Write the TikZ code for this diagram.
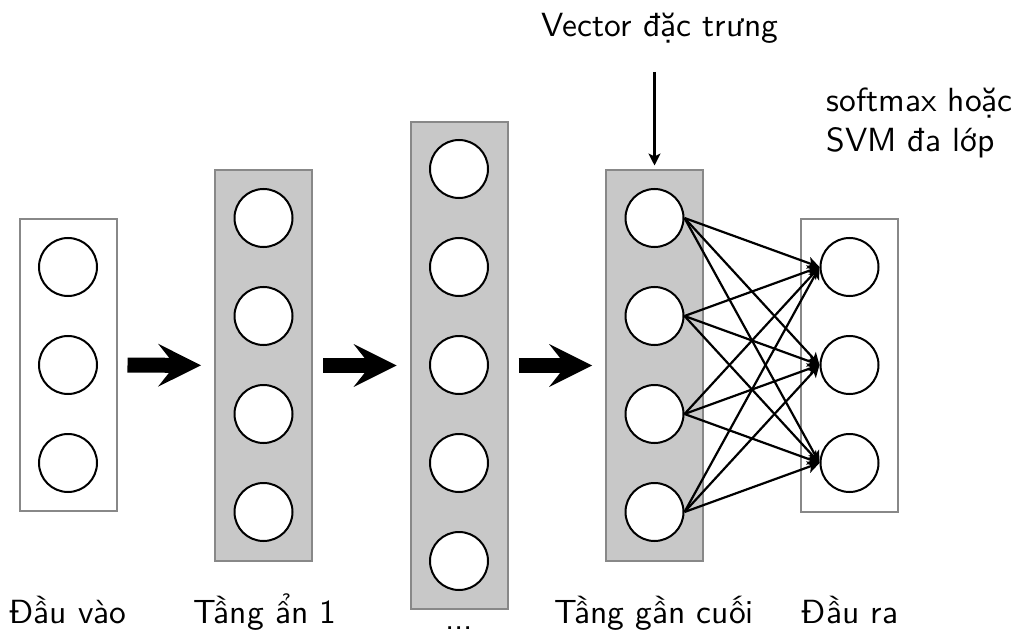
\documentclass[tikz,border=0pt]{standalone}
\usepackage{fontspec}
\usetikzlibrary{arrows.meta,positioning}

\newfontfamily\lmsans{lmsans10-regular.otf}

\definecolor{boxgray}{RGB}{136,136,136}
\definecolor{boxfill}{RGB}{200,200,200}

\tikzset{neuron/.style={circle,draw,line width=2pt,fill=white,minimum size=58pt,inner sep=0pt},
         layer/.style={draw=boxgray,line width=2pt,minimum width=97pt,inner sep=0pt},
         hidden/.style={layer,fill=boxfill},
         fatarrow/.style={line width=15pt,
           -{Stealth[length=43pt,width=43pt,inset=17pt,line width=0pt]},
           shorten <=10pt,shorten >=13pt},
         link/.style={line width=2.2pt,-{Stealth[length=12pt,width=12pt,inset=3pt]}},
         caption/.style={anchor=base}}

\begin{document}
\begin{tikzpicture}[x=1pt,y=-1pt,font=\lmsans\fontsize{33.5}{40}\selectfont]
\useasboundingbox (0,0) rectangle (1020,631);

\node[layer,minimum height=292pt] (in) at (68,365) {};
\node[hidden,minimum height=390pt] (h1) at (263.5,365.5) {};
\node[hidden,minimum height=487pt] (mid) at (459,365.5) {};
\node[hidden,minimum height=390pt] (pen) at (654.5,365.5) {};
\node[layer,minimum height=292pt] (out) at (849.5,365.5) {};

\node[neuron] (in-1) at (68,267) {};
\node[neuron] (in-2) at (68,365) {};
\node[neuron] (in-3) at (68,463) {};

\node[neuron] (h1-1) at (263.5,218) {};
\node[neuron] (h1-2) at (263.5,316) {};
\node[neuron] (h1-3) at (263.5,414) {};
\node[neuron] (h1-4) at (263.5,512) {};

\node[neuron] (mid-1) at (459,169) {};
\node[neuron] (mid-2) at (459,267) {};
\node[neuron] (mid-3) at (459,365) {};
\node[neuron] (mid-4) at (459,463) {};
\node[neuron] (mid-5) at (459,561) {};

\node[neuron] (pen-1) at (654.5,218) {};
\node[neuron] (pen-2) at (654.5,316) {};
\node[neuron] (pen-3) at (654.5,414) {};
\node[neuron] (pen-4) at (654.5,512) {};

\node[neuron] (out-1) at (849.5,267) {};
\node[neuron] (out-2) at (849.5,365) {};
\node[neuron] (out-3) at (849.5,463) {};

\draw[fatarrow] (in) -- (h1);
\draw[fatarrow] (h1) -- (mid);
\draw[fatarrow] (mid) -- (pen);

\foreach \i in {1,...,4}
  \foreach \j in {1,2,3}
    \draw[link] (pen-\i.east) -- (out-\j.west);

\node[caption] (vec) at (660,37) {Vector đặc trưng};
\coordinate (vec-end) at (654.5,72);
\draw[link,shorten >=4pt] (vec-end) -- (pen.north);
\node[anchor=base west,align=left] (clf) at (823,152) {softmax hoặc\\SVM đa lớp};

\node[caption] (lin) at (68,623) {Đầu vào};
\node[caption] (lh1) at (265,623) {Tầng ẩn 1};
\node[caption,inner sep=0pt,text depth=0pt,text height=5pt] (lmid) at (459,629) {...};
\node[caption] (lpen) at (654,623) {Tầng gần cuối};
\node[caption] (lout) at (850,623) {Đầu ra};
\end{tikzpicture}
\end{document}
